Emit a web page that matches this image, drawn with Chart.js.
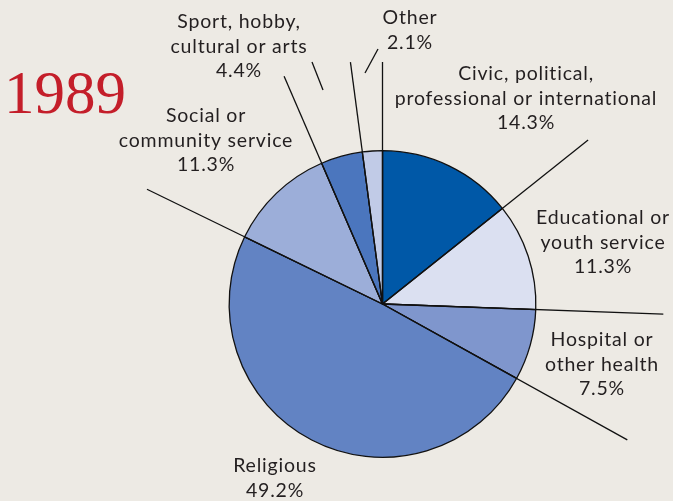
<!DOCTYPE html>
<html>
<head>
<meta charset="utf-8">
<script src="https://cdn.jsdelivr.net/npm/chart.js@4.4.0/dist/chart.umd.min.js"></script>
<style>
  html, body { margin: 0; padding: 0; background: #edeae4; }
  #wrap { width: 673px; height: 501px; position: relative; }
</style>
</head>
<body>
<div id="wrap"><canvas id="chart" width="673" height="501"></canvas></div>
<script>
// Data (clockwise from 12 o'clock)
const categories = [
    ["Civic, political,", "professional or international"],
    ["Educational or", "youth service"],
    ["Hospital or", "other health"],
    ["Religious"],
    ["Social or", "community service"],
    ["Sport, hobby,", "cultural or arts"],
    ["Other"]
];
const shares = [14.3, 11.3, 7.5, 49.2, 11.3, 4.4, 2.1];
const yearLabel = "1989";

// Styling / layout
const sliceColors = ["#0058a7", "#dbe0f1", "#7f96cd", "#6283c3", "#9caed9", "#4b76be", "#c1cbe7"];
// length of the leader line drawn along each slice's end edge (px from centre)
const edgeLineLength = [263, 281, 280, 262, 248, 244, 242];
// label anchor (centre x, first line middle y)
const labelPos = [[526, 74], [603, 218], [602, 340], [275, 466], [206, 116], [239, 22], [410, 18]];
// small free pointer strokes next to the top labels
const pointerStrokes = [[312, 62, 323, 90], [378, 49, 365, 73]];
const lineHeight = 24.5;

const leaderPlugin = {
    id: "leaders",
    afterDatasetsDraw(chart) {
        const ctx = chart.ctx;
        const arcs = chart.getDatasetMeta(0).data;
        ctx.save();
        ctx.strokeStyle = "#111";
        ctx.lineWidth = 1.3;
        arcs.forEach((arc, i) => {
            const a = arc.endAngle;
            ctx.beginPath();
            ctx.moveTo(arc.x, arc.y);
            ctx.lineTo(arc.x + Math.cos(a) * edgeLineLength[i], arc.y + Math.sin(a) * edgeLineLength[i]);
            ctx.stroke();
        });
        pointerStrokes.forEach(p => {
            ctx.beginPath();
            ctx.moveTo(p[0], p[1]);
            ctx.lineTo(p[2], p[3]);
            ctx.stroke();
        });

        // labels
        ctx.fillStyle = "#231f20";
        ctx.font = "19.5px Lato";
        ctx.letterSpacing = "0.8px";
        ctx.textAlign = "center";
        ctx.textBaseline = "middle";
        categories.forEach((lines, i) => {
            const [x, y] = labelPos[i];
            const all = lines.concat([shares[i].toFixed(1) + "%"]);
            all.forEach((t, k) => ctx.fillText(t, x, y + k * lineHeight));
        });

        // year
        ctx.letterSpacing = "0px";
        ctx.fillStyle = "#c41e2a";
        ctx.font = "61px 'Liberation Serif'";
        ctx.textAlign = "left";
        ctx.textBaseline = "alphabetic";
        ctx.fillText(yearLabel, 4, 113);
        ctx.restore();
    }
};

new Chart(document.getElementById("chart"), {
    type: "pie",
    data: {
        labels: categories.map(c => c.join(" ")),
        datasets: [{
            data: shares,
            backgroundColor: sliceColors,
            borderColor: "#111",
            borderWidth: 1.3
        }]
    },
    options: {
        responsive: false,
        animation: false,
        layout: { padding: { left: 228, right: 136, top: 150, bottom: 43 } },
        plugins: {
            legend: { display: false },
            tooltip: { enabled: false }
        }
    },
    plugins: [leaderPlugin]
});
</script>
</body>
</html>
